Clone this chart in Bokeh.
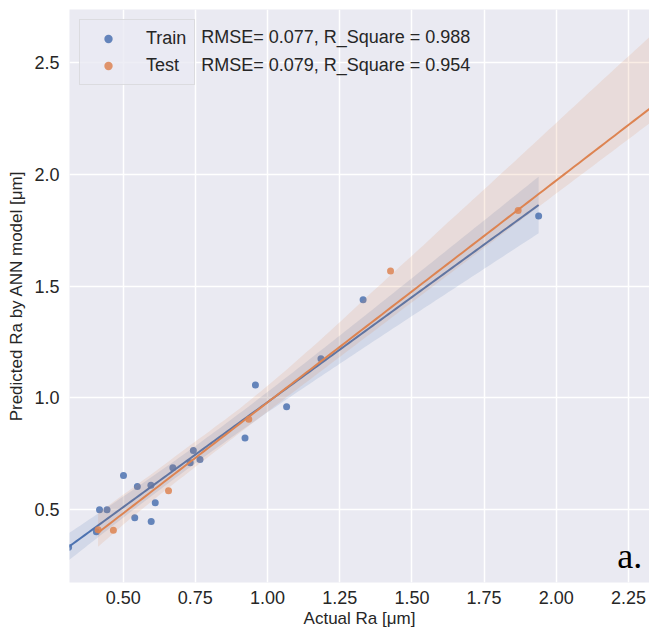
import itertools
import math
import numpy as np
from bokeh.plotting import figure
from bokeh.models import (Range1d, FixedTicker, NumeralTickFormatter, Legend,
                          LegendItem, Label)
from bokeh.embed import file_html
from bokeh.resources import INLINE

# ---------------- data ----------------
train_actual = [0.311, 0.407, 0.418, 0.444, 0.501, 0.540, 0.549, 0.596, 0.597, 0.611,
                0.672, 0.732, 0.743, 0.766, 0.922, 0.958, 1.066, 1.185, 1.331, 1.939]
train_pred = [0.332, 0.402, 0.500, 0.500, 0.653, 0.464, 0.604, 0.610, 0.448, 0.531,
              0.688, 0.710, 0.765, 0.725, 0.821, 1.058, 0.961, 1.175, 1.439, 1.813]
test_actual = [0.413, 0.466, 0.657, 0.935, 1.426, 1.868, 2.500]
test_pred = [0.411, 0.409, 0.585, 0.905, 1.567, 1.838, 2.400]

x_ticks = [0.50, 0.75, 1.00, 1.25, 1.50, 1.75, 2.00, 2.25]
y_ticks = [0.5, 1.0, 1.5, 2.0, 2.5]
series_names = ["Train", "Test"]
metric_texts = ["RMSE= 0.077, R_Square = 0.988", "RMSE= 0.079, R_Square = 0.954"]

BLUE = "#4C72B0"
ORANGE = "#DD8452"
FONT = "Liberation Sans"
TXT = "#262626"

T975 = {1: 12.706, 2: 4.303, 3: 3.182, 4: 2.776, 5: 2.571, 6: 2.447, 7: 2.365,
        8: 2.306, 9: 2.262, 10: 2.228, 11: 2.201, 12: 2.179, 13: 2.160, 14: 2.145,
        15: 2.131, 16: 2.120, 17: 2.110, 18: 2.101, 19: 2.093, 20: 2.086}


def fit_band_t(x, y, num=120):
    """Straight-line fit with analytical 95% confidence band."""
    x = np.asarray(x, float)
    y = np.asarray(y, float)
    n = len(x)
    slope, icpt = np.polyfit(x, y, 1)
    xs = np.linspace(x.min(), x.max(), num)
    yh = icpt + slope * xs
    resid = y - (icpt + slope * x)
    s = np.sqrt(np.sum(resid ** 2) / (n - 2))
    sxx = np.sum((x - x.mean()) ** 2)
    se = s * np.sqrt(1.0 / n + (xs - x.mean()) ** 2 / sxx)
    t = T975.get(n - 2, 1.96)
    return xs, yh, yh - t * se, yh + t * se


def fit_band_exact_bootstrap(x, y, num=120):
    """Straight-line fit with the exact (enumerated) bootstrap 95% band."""
    x = np.asarray(x, float)
    y = np.asarray(y, float)
    n = len(x)
    slope, icpt = np.polyfit(x, y, 1)
    xs = np.linspace(x.min(), x.max(), num)
    yh = icpt + slope * xs
    preds, wts = [], []
    fact_n = math.factorial(n)
    for combo in itertools.combinations_with_replacement(range(n), n):
        c = np.bincount(combo, minlength=n).astype(float)
        w = fact_n / np.prod([math.factorial(int(k)) for k in c]) / n ** n
        sw = c.sum()
        mx = (c * x).sum() / sw
        my = (c * y).sum() / sw
        sxx = (c * (x - mx) ** 2).sum()
        if sxx < 1e-12:
            continue
        b = (c * (x - mx) * (y - my)).sum() / sxx
        preds.append(my + b * (xs - mx))
        wts.append(w)
    preds = np.array(preds)
    wts = np.array(wts)
    wts = wts / wts.sum()
    lo = np.empty(num)
    hi = np.empty(num)
    for j in range(num):
        order = np.argsort(preds[:, j])
        cw = np.cumsum(wts[order])
        vals = preds[order, j]
        lo[j] = vals[np.searchsorted(cw, 0.025)]
        hi[j] = vals[min(np.searchsorted(cw, 0.975), len(vals) - 1)]
    return xs, yh, lo, hi


p = figure(width=649, height=631,
           x_range=Range1d(0.314, 2.323), y_range=Range1d(0.175, 2.736),
           output_backend="svg", toolbar_location=None,
           min_border_left=69, min_border_right=0, min_border_top=9, min_border_bottom=49)
p.background_fill_color = "#EAEAF2"
p.border_fill_color = "white"
p.outline_line_color = None

p.xaxis.ticker = FixedTicker(ticks=x_ticks)
p.yaxis.ticker = FixedTicker(ticks=y_ticks)
p.xaxis.formatter = NumeralTickFormatter(format="0.00")
p.yaxis.formatter = NumeralTickFormatter(format="0.0")
p.xgrid.ticker = FixedTicker(ticks=x_ticks)
p.ygrid.ticker = FixedTicker(ticks=y_ticks)
p.grid.grid_line_color = "white"
p.grid.grid_line_width = 1.5

for ax in (p.xaxis, p.yaxis):
    ax.axis_line_color = None
    ax.major_tick_line_color = None
    ax.minor_tick_line_color = None
    ax.major_tick_out = 0
    ax.major_tick_in = 0
    ax.major_label_text_font = FONT
    ax.major_label_text_font_size = "18px"
    ax.major_label_text_color = TXT
    ax.axis_label_text_font = FONT
    ax.axis_label_text_font_size = "17px"
    ax.axis_label_text_font_style = "normal"
    ax.axis_label_text_color = TXT
p.xaxis.major_label_standoff = 8
p.yaxis.major_label_standoff = 10
p.xaxis.axis_label_standoff = 2
p.yaxis.axis_label_standoff = 5
p.xaxis.axis_label = "Actual Ra [μm]"
p.yaxis.axis_label = "Predicted Ra by ANN model [μm]"

renderers = []
series = ((train_actual, train_pred, BLUE, fit_band_t),
          (test_actual, test_pred, ORANGE, fit_band_exact_bootstrap))
for xa, ya, col, fitter in series:
    r = p.scatter(xa, ya, size=7, fill_color=col, line_color=None, fill_alpha=0.85)
    renderers.append(r)
    xs, yh, lo, hi = fitter(xa, ya)
    p.varea(x=xs, y1=lo, y2=hi, fill_color=col, fill_alpha=0.15)
    p.line(xs, yh, line_color=col, line_width=2)

legend = Legend(items=[LegendItem(label=series_names[0], renderers=[renderers[0]]),
                       LegendItem(label=series_names[1], renderers=[renderers[1]])],
                location="top_left", margin=10, padding=8, spacing=6,
                glyph_width=40, glyph_height=21, label_height=21, label_standoff=18,
                label_text_font=FONT, label_text_font_size="18px", label_text_color=TXT,
                background_fill_color="#EAEAF2", background_fill_alpha=0.8,
                border_line_color="#CCCCCC", border_line_width=1)
p.add_layout(legend)

p.add_layout(Label(x=0.770, y=2.615, text=metric_texts[0], text_font=FONT,
                   text_font_size="18px", text_color=TXT, text_baseline="middle"))
p.add_layout(Label(x=0.770, y=2.4875, text=metric_texts[1], text_font=FONT,
                   text_font_size="18px", text_color=TXT, text_baseline="middle"))
p.add_layout(Label(x=2.211, y=0.295, text="a.", text_font="Liberation Serif",
                   text_font_size="36px", text_color="black", text_baseline="alphabetic"))

open("out.html", "w").write(file_html(p, INLINE))
